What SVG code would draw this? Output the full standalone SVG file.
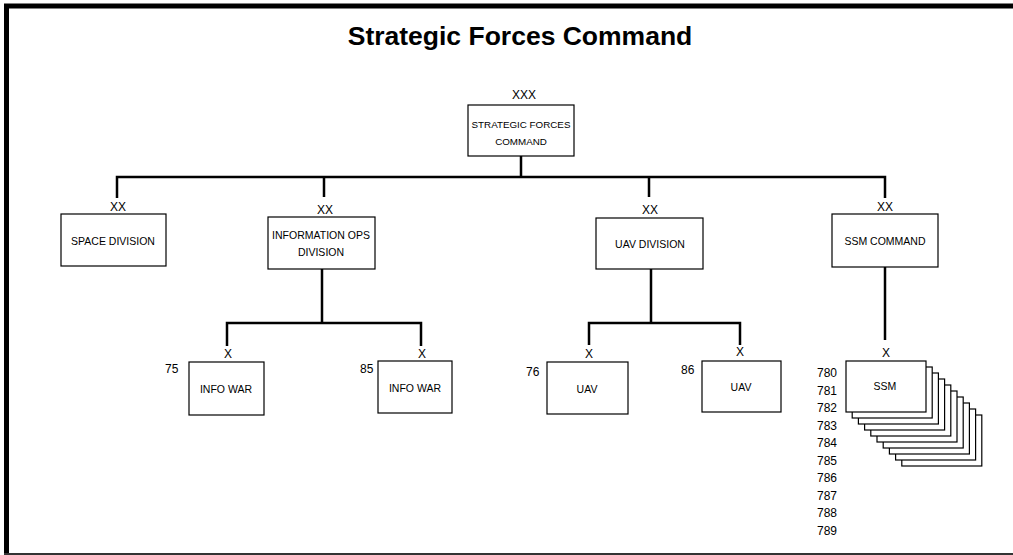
<svg xmlns="http://www.w3.org/2000/svg" width="1013" height="555" viewBox="0 0 1013 555">
<style>
.box{fill:#fff;stroke:#000;stroke-width:1.2}
.lbl{font-family:"Liberation Sans",Arial,sans-serif;font-size:10.5px;fill:#000;text-anchor:middle}
.ech{font-family:"Liberation Sans",Arial,sans-serif;font-size:12px;fill:#000;text-anchor:middle}
.num{font-family:"Liberation Sans",Arial,sans-serif;font-size:12px;fill:#000}
.con{fill:none;stroke:#000;stroke-width:2.5}
</style>
<rect x="0" y="0" width="1013" height="555" fill="#fff"/>
<g id="frame">
<line x1="4" y1="6" x2="1013" y2="6" stroke="#000" stroke-width="5"/>
<line x1="6.5" y1="4" x2="6.5" y2="555" stroke="#000" stroke-width="5"/>
<line x1="4" y1="554" x2="1013" y2="554" stroke="#333" stroke-width="2"/>
</g>
<text x="520" y="45" font-family="'Liberation Sans',Arial,sans-serif" font-weight="bold" font-size="26.5" text-anchor="middle">Strategic Forces Command</text>
<g id="connectors">
<path class="con" d="M521,156V177M117,198V177H885V198M324,177V197M649,177V197"/>
<path class="con" d="M322,269V323M227,346V323H421V346"/>
<path class="con" d="M651,269V323M589,345V323H740V345"/>
<path class="con" d="M885,267V340"/>
</g>
<g id="sfc">
<text class="ech" x="524" y="99">XXX</text>
<rect class="box" x="468" y="105" width="106" height="51"/>
<text class="lbl" x="521" y="128" style="font-size:9.8px">STRATEGIC FORCES</text>
<text class="lbl" x="521" y="145" style="font-size:9.8px">COMMAND</text>
</g>
<g id="space">
<text class="ech" x="118" y="211">XX</text>
<rect class="box" x="61" y="214" width="105" height="52"/>
<text class="lbl" x="113" y="245">SPACE DIVISION</text>
</g>
<g id="infoops">
<text class="ech" x="325" y="214">XX</text>
<rect class="box" x="268" y="217" width="107" height="52"/>
<text class="lbl" x="321" y="239">INFORMATION OPS</text>
<text class="lbl" x="321" y="256">DIVISION</text>
</g>
<g id="uavdiv">
<text class="ech" x="650" y="214">XX</text>
<rect class="box" x="596" y="218" width="107" height="51"/>
<text class="lbl" x="650" y="248">UAV DIVISION</text>
</g>
<g id="ssmcmd">
<text class="ech" x="885" y="211">XX</text>
<rect class="box" x="832" y="214" width="106" height="53"/>
<text class="lbl" x="885" y="245">SSM COMMAND</text>
</g>
<g id="iw75">
<text class="ech" x="228" y="358">X</text>
<text class="num" x="165" y="373">75</text>
<rect class="box" x="189" y="362" width="75" height="53"/>
<text class="lbl" x="226" y="393">INFO WAR</text>
</g>
<g id="iw85">
<text class="ech" x="422" y="358">X</text>
<text class="num" x="360" y="373">85</text>
<rect class="box" x="378" y="361" width="74" height="52"/>
<text class="lbl" x="415" y="392">INFO WAR</text>
</g>
<g id="uav76">
<text class="ech" x="589" y="358">X</text>
<text class="num" x="526" y="376">76</text>
<rect class="box" x="547" y="362" width="81" height="52"/>
<text class="lbl" x="587" y="393">UAV</text>
</g>
<g id="uav86">
<text class="ech" x="740" y="356">X</text>
<text class="num" x="681" y="374">86</text>
<rect class="box" x="702" y="361" width="79" height="51"/>
<text class="lbl" x="741" y="391">UAV</text>
</g>
<g id="ssm">
<text class="ech" x="886" y="357">X</text>
<rect class="box" x="901.8" y="415" width="80" height="51"/>
<rect class="box" x="895.6" y="409" width="80" height="51"/>
<rect class="box" x="889.4" y="403" width="80" height="51"/>
<rect class="box" x="883.2" y="397" width="80" height="51"/>
<rect class="box" x="877" y="391" width="80" height="51"/>
<rect class="box" x="870.8" y="385" width="80" height="51"/>
<rect class="box" x="864.6" y="379" width="80" height="51"/>
<rect class="box" x="858.4" y="373" width="80" height="51"/>
<rect class="box" x="852.2" y="367" width="80" height="51"/>
<rect class="box" x="846" y="361" width="80" height="51"/>
<text class="lbl" x="885" y="390">SSM</text>
<text class="num" x="817" y="377">780</text>
<text class="num" x="817" y="394.5">781</text>
<text class="num" x="817" y="412">782</text>
<text class="num" x="817" y="429.5">783</text>
<text class="num" x="817" y="447">784</text>
<text class="num" x="817" y="464.5">785</text>
<text class="num" x="817" y="482">786</text>
<text class="num" x="817" y="499.5">787</text>
<text class="num" x="817" y="517">788</text>
<text class="num" x="817" y="534.5">789</text>
</g>
</svg>
